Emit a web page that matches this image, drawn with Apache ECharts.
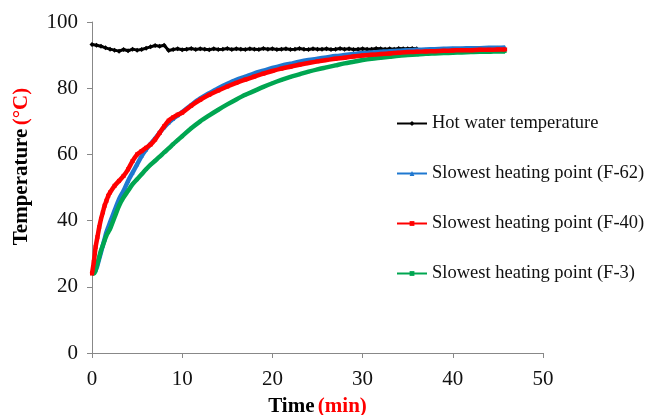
<!DOCTYPE html>
<html>
<head>
<meta charset="utf-8">
<script src="https://cdn.jsdelivr.net/npm/echarts@6/dist/echarts.min.js"></script>
<style>
html,body{margin:0;padding:0;background:#fff;}
#chart{width:646px;height:415px;}
</style>
</head>
<body>
<div id="chart"></div>
<script>
// Time (min) for the heating curves
var timeHeat = [0,0.2,0.4,0.6,0.8,1.0,1.2,1.4,1.6,1.8,2.0,2.5,3.0,3.5,4.0,4.5,5.0,5.5,6.0,6.5,7.0,7.5,8.0,8.5,9.0,9.5,10,
  11,12,13,14,15,16,17,18,19,20,21,22,23,24,25,26,27,28,29,30,31,32,33,34,35,36,37,38,39,40,41,42,43,44,45,45.8];
var f62 = [25,24.5,25,26.5,28.5,30.5,32.5,34.5,36.5,38,39.5,43,46.5,49,52,54.5,57,59.5,61.5,63.2,64.8,66.6,68.2,69.6,70.8,71.8,72.8,
  74.9,76.9,78.5,80,81.3,82.5,83.5,84.5,85.3,86.1,86.8,87.4,88,88.5,88.9,89.3,89.7,90,90.3,90.6,90.8,91,91.2,91.3,91.5,91.6,91.7,91.8,91.9,92,92,92.1,92.1,92.2,92.2,92.3];
var f40 = [24,27.5,32,35,38,40.5,42.5,44.5,46,47.5,48.5,50.5,52,53.5,55.5,58,60,61,62,63,64.5,66.5,68.5,70.2,71.2,72,72.6,
  74.7,76.5,78,79.3,80.5,81.6,82.6,83.5,84.4,85.2,85.9,86.5,87.1,87.6,88.1,88.5,88.9,89.2,89.6,89.9,90.1,90.3,90.5,90.7,90.9,91,91.1,91.2,91.3,91.4,91.5,91.5,91.6,91.6,91.7,91.7];
var f3 = [24,24,25,27,29,31,32.5,34,35.5,36.5,37.5,41,44.5,47,49,51,52.5,54,55.5,56.9,58.1,59.3,60.6,61.8,63.1,64.3,65.5,
  67.9,70,71.8,73.5,75.1,76.6,78,79.2,80.4,81.5,82.5,83.4,84.2,85,85.7,86.3,86.9,87.5,88,88.5,88.9,89.2,89.5,89.8,90,90.2,90.4,90.5,90.6,90.7,90.8,90.9,91,91,91.1,91.1];
// Hot water temperature
var timeWater = [0,0.5,1,1.5,2,2.5,3,3.5,4,4.5,5,5.5,6,6.5,7,7.5,8,8.5,9,9.5,10,10.5,11,11.5,12,12.5,13,13.5,14,14.5,15,15.5,16,16.5,17,17.5,18,18.5,19,19.5,20,20.5,21,21.5,22,22.5,23,23.5,24,24.5,25,25.5,26,26.5,27,27.5,28,28.5,29,29.5,30,30.5,31,31.5,32,32.5,33,33.5,34,34.5,35,35.5,36];
var water = [93.2,93,92.7,92.2,91.8,91.5,91.2,91.7,91.3,91.8,91.5,91.7,92.1,92.5,92.9,92.7,93,91.4,91.7,91.9,91.6,91.8,92,91.7,91.9,91.8,91.6,91.9,91.7,91.8,92,91.7,91.9,91.8,91.7,91.9,91.8,91.7,92,91.8,91.9,91.7,91.8,91.9,91.7,91.8,92,91.8,91.7,91.9,91.8,91.8,91.9,91.7,91.8,92,91.8,91.9,91.7,91.8,91.9,91.8,91.8,92,91.9,91.8,91.9,91.8,92,91.9,91.9,92,91.9];
var xTicks = [0,10,20,30,40,50];
var yTicks = [0,20,40,60,80,100];
var names = ['Hot water temperature','Slowest heating point (F-62)','Slowest heating point (F-40)','Slowest heating point (F-3)'];

function pairs(xs, ys){ return xs.map(function(x,i){ return [x, ys[i]]; }); }

var chart = echarts.init(document.getElementById('chart'), null, {renderer:'canvas'});
var serif = '"Liberation Serif","Times New Roman",serif';
chart.setOption({
  animation:false,
  backgroundColor:'#fff',
  grid:{left:92,right:103,top:22,bottom:62,containLabel:false,outerBoundsMode:'none'},
  legend:{
    orient:'vertical', left:391, top:109, padding:5, itemGap:31, itemWidth:30, itemHeight:6,
    textStyle:{fontFamily:serif,fontSize:18.5,color:'#111'},
    data:names
  },
  xAxis:{
    type:'value', min:xTicks[0], max:xTicks[xTicks.length-1], interval:10,
    splitLine:{show:false},
    axisLine:{onZero:false,lineStyle:{color:'#888',width:1}},
    axisTick:{show:true,length:5,lineStyle:{color:'#888'}},
    axisLabel:{fontFamily:serif,fontSize:21,color:'#111',margin:16},
    name:'{a|Time} {b|(min)}', nameLocation:'middle', nameGap:43,
    nameTextStyle:{rich:{a:{fontFamily:serif,fontSize:21,fontWeight:'bold',color:'#000'},b:{fontFamily:serif,fontSize:21,fontWeight:'bold',color:'#ff0000'}}}
  },
  yAxis:{
    type:'value', min:yTicks[0], max:yTicks[yTicks.length-1], interval:20,
    splitLine:{show:false},
    axisLine:{show:true,lineStyle:{color:'#888',width:1}},
    axisTick:{show:true,length:5,lineStyle:{color:'#888'}},
    axisLabel:{fontFamily:serif,fontSize:21,color:'#111',margin:14},
    name:'{a|Temperature} {b|(°C)}', nameLocation:'middle', nameGap:60,
    nameTextStyle:{padding:[0,0,0,42],rich:{a:{fontFamily:serif,fontSize:21,fontWeight:'bold',color:'#000'},b:{fontFamily:serif,fontSize:21,fontWeight:'bold',color:'#ff0000'}}}
  },
  series:[
    {name:names[0],type:'line',data:pairs(timeWater,water),color:'#000',symbol:'diamond',symbolSize:5,showSymbol:true,
      lineStyle:{width:3,color:'#000'},itemStyle:{color:'#000'},z:1},
    {name:names[1],type:'line',data:pairs(timeHeat,f62),color:'#1f78d0',symbol:'triangle',symbolSize:4,smooth:0.3,
      lineStyle:{width:4.5,color:'#1f78d0'},itemStyle:{color:'#1f78d0'},z:2},
    {name:names[3],type:'line',data:pairs(timeHeat,f3),color:'#00a651',symbol:'rect',symbolSize:3,smooth:0.3,
      lineStyle:{width:4.5,color:'#00a651'},itemStyle:{color:'#00a651'},z:3},
    {name:names[2],type:'line',data:pairs(timeHeat,f40),color:'#ff0000',symbol:'rect',symbolSize:4,smooth:0.3,
      lineStyle:{width:4.5,color:'#ff0000'},itemStyle:{color:'#ff0000'},z:4}
  ]
});
</script>
</body>
</html>
